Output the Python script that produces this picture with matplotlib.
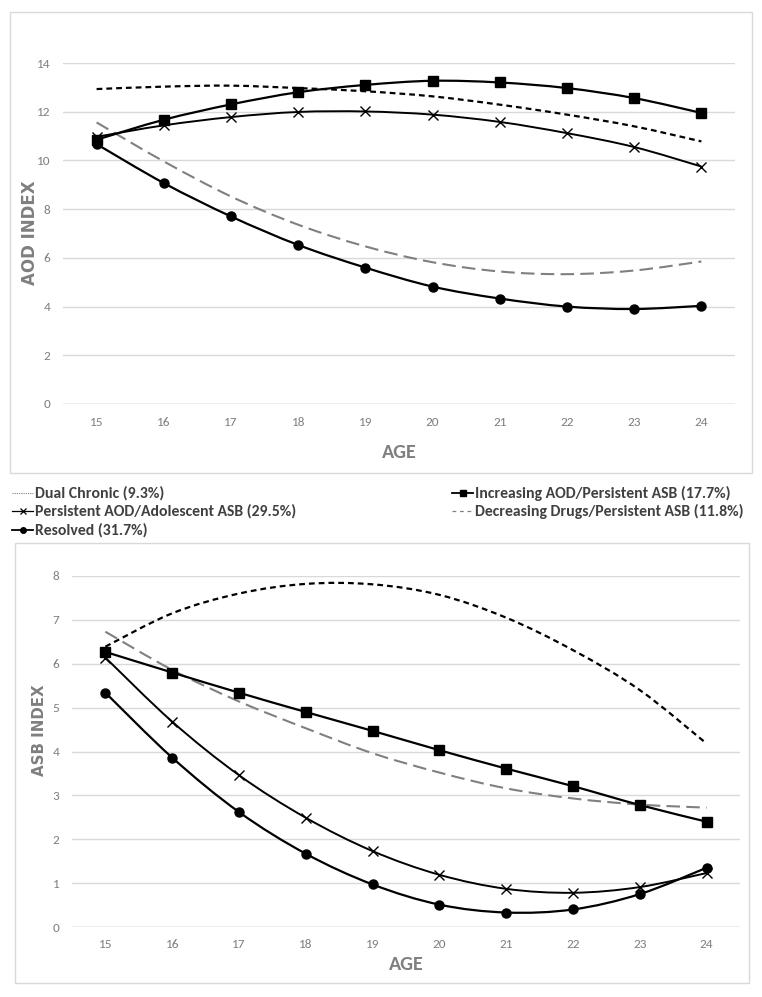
import matplotlib
matplotlib.use("Agg")
import matplotlib.pyplot as plt
from matplotlib.path import Path
from matplotlib.patches import PathPatch, Rectangle
from matplotlib.lines import Line2D
import numpy as np

plt.rcParams['font.family'] = ['Carlito', 'DejaVu Sans']

ages = ["15", "16", "17", "18", "19", "20", "21", "22", "23", "24"]

# AOD index (top panel)
aod_dual = [12.93, 13.03, 13.07, 12.97, 12.84, 12.63, 12.29, 11.88, 11.40, 10.78]
aod_incr = [10.85, 11.67, 12.30, 12.80, 13.10, 13.27, 13.20, 12.97, 12.56, 11.95]
aod_pers = [10.97, 11.44, 11.78, 11.99, 12.01, 11.88, 11.58, 11.12, 10.55, 9.75]
aod_decr = [11.56, 9.96, 8.52, 7.36, 6.47, 5.82, 5.44, 5.33, 5.48, 5.85]
aod_reso = [10.67, 9.07, 7.70, 6.53, 5.60, 4.82, 4.33, 4.00, 3.90, 4.03]

# ASB index (bottom panel)
asb_dual = [6.39, 7.15, 7.60, 7.82, 7.81, 7.57, 7.05, 6.31, 5.40, 4.18]
asb_incr = [6.27, 5.80, 5.34, 4.90, 4.47, 4.03, 3.61, 3.21, 2.78, 2.40]
asb_pers = [6.14, 4.68, 3.46, 2.49, 1.73, 1.19, 0.87, 0.78, 0.91, 1.23]
asb_decr = [6.73, 5.86, 5.14, 4.53, 3.96, 3.52, 3.16, 2.93, 2.79, 2.72]
asb_reso = [5.34, 3.86, 2.62, 1.67, 0.97, 0.51, 0.33, 0.40, 0.75, 1.35]

labels = ["Dual Chronic (9.3%)", "Increasing AOD/Persistent ASB (17.7%)",
          "Persistent AOD/Adolescent ASB (29.5%)", "Decreasing Drugs/Persistent ASB (11.8%)",
          "Resolved (31.7%)"]

W, H = 762, 997
fig = plt.figure(figsize=(W / 100, H / 100), dpi=100)
fig.patch.set_facecolor('white')

GRID = '#d9d9d9'
TXT = '#7f7f7f'


def fx(x):
    return x / W


def fy(y):
    return 1 - y / H


def px_axes(l, t, r, b):
    return fig.add_axes([l / W, 1 - b / H, (r - l) / W, (b - t) / H])


def smooth_path(x, y):
    pts = np.column_stack([x, y]).astype(float)
    n = len(pts)
    verts = [pts[0]]
    codes = [Path.MOVETO]
    for i in range(n - 1):
        p0 = pts[i - 1] if i > 0 else pts[i]
        p1 = pts[i]
        p2 = pts[i + 1]
        p3 = pts[i + 2] if i + 2 < n else pts[i + 1]
        c1 = p1 + (p2 - p0) / 6.0
        c2 = p2 - (p3 - p1) / 6.0
        verts += [c1, c2, p2]
        codes += [Path.CURVE4] * 3
    return Path(verts, codes)


def draw_series(ax, y, color, lw, ls, marker, ms, mew=1.0):
    x = np.arange(len(y))
    patch = PathPatch(smooth_path(x, y), facecolor='none', edgecolor=color,
                      lw=lw, linestyle=ls, capstyle='butt', zorder=3)
    ax.add_patch(patch)
    if marker:
        ax.plot(x, y, linestyle='none', marker=marker, ms=ms, color=color,
                mec=color, mew=mew, zorder=4)


def setup(ax, ymax, ystep):
    ax.set_xlim(-0.5, len(ages) - 0.5)
    ax.set_ylim(0, ymax)
    ax.set_yticks(np.arange(0, ymax + 0.01, ystep))
    ax.set_xticks(range(len(ages)))
    ax.set_xticklabels(ages)
    for s in ax.spines.values():
        s.set_visible(False)
    ax.grid(axis='y', color=GRID, lw=1)
    ax.set_axisbelow(True)
    ax.tick_params(length=0, labelsize=9.5, labelcolor=TXT, pad=9)
    ax.axhline(0, color='#c8c8c8', lw=1, zorder=1)


DUAL_LS = (0, (2.6, 1.8))
DECR_LS = (0, (6.5, 3.0))

# ---- top panel
fig.patches.append(Rectangle((fx(10), fy(473)), 742 / W, 461 / H, transform=fig.transFigure,
                             fill=False, edgecolor=GRID, lw=1))
ax1 = px_axes(63, 63, 735, 404)
setup(ax1, 14, 2)
draw_series(ax1, aod_dual, 'black', 1.6, DUAL_LS, None, 0)
draw_series(ax1, aod_decr, '#808080', 1.5, DECR_LS, None, 0)
draw_series(ax1, aod_pers, 'black', 1.4, '-', 'x', 7, 1.0)
draw_series(ax1, aod_incr, 'black', 1.6, '-', 's', 6.5)
draw_series(ax1, aod_reso, 'black', 1.6, '-', 'o', 6.5)
fig.text(fx(399), fy(452), "AGE", ha='center', va='center', fontsize=14.5,
         fontweight='bold', color=TXT)
fig.text(fx(30), fy(233), "AOD INDEX", rotation=90, ha='center', va='center',
         fontsize=12, fontweight='bold', color=TXT, family=['DejaVu Sans'])

# ---- bottom panel
fig.patches.append(Rectangle((fx(15), fy(983)), 734 / W, 440 / H, transform=fig.transFigure,
                             fill=False, edgecolor=GRID, lw=1))
ax2 = px_axes(72, 576, 740, 927)
setup(ax2, 8, 1)
draw_series(ax2, asb_dual, 'black', 1.6, DUAL_LS, None, 0)
draw_series(ax2, asb_decr, '#808080', 1.5, DECR_LS, None, 0)
draw_series(ax2, asb_pers, 'black', 1.4, '-', 'x', 7, 1.0)
draw_series(ax2, asb_incr, 'black', 1.6, '-', 's', 6.5)
draw_series(ax2, asb_reso, 'black', 1.6, '-', 'o', 6.5)
fig.text(fx(406), fy(964), "AGE", ha='center', va='center', fontsize=14.5,
         fontweight='bold', color=TXT)
fig.text(fx(39), fy(730), "ASB INDEX", rotation=90, ha='center', va='center',
         fontsize=10.8, fontweight='bold', color=TXT, family=['DejaVu Sans'])

# ---- legend (drawn manually in figure pixel positions)
styles = {
    0: dict(color='#808080', lw=0.8, linestyle=(0, (1, 1)), marker=None),
    1: dict(color='black', lw=1.3, linestyle='-', marker='s', ms=4),
    2: dict(color='black', lw=0.9, linestyle='-', marker='x', ms=5, mew=0.9),
    3: dict(color='#808080', lw=0.9, linestyle=(0, (3, 3)), marker=None),
    4: dict(color='black', lw=1.3, linestyle='-', marker='o', ms=4),
}
positions = {0: (12, 493), 2: (12, 511), 4: (12, 530), 1: (452, 493), 3: (452, 511)}
for i, (x0, yc) in positions.items():
    st = dict(styles[i])
    mk = st.pop('marker')
    ms = st.pop('ms', 0)
    mew = st.pop('mew', 1.0)
    fig.add_artist(Line2D([fx(x0), fx(x0 + 21)], [fy(yc), fy(yc)], transform=fig.transFigure, **st))
    if mk:
        fig.add_artist(Line2D([fx(x0 + 10.5)], [fy(yc)], transform=fig.transFigure,
                              marker=mk, ms=ms, mew=mew, color=st['color'], linestyle='none'))
    fig.text(fx(x0 + 23), fy(yc), labels[i], ha='left', va='center', fontsize=11.3,
             fontweight='bold', color='#404040')

fig.savefig("out.png", dpi=100)
